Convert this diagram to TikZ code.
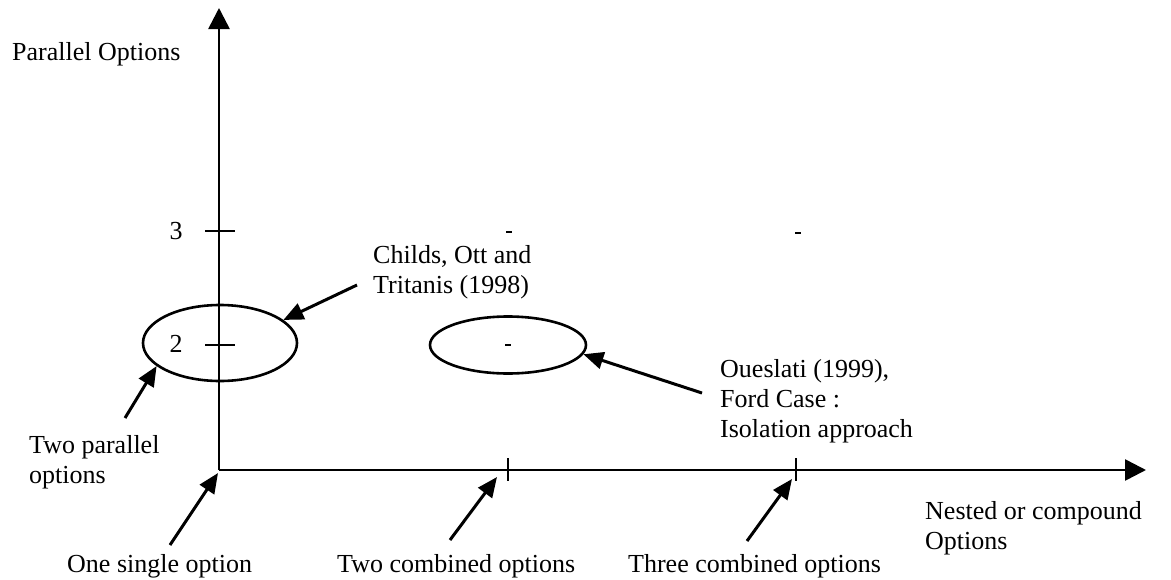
\documentclass[tikz,border=0pt]{standalone}
\usepackage{fontspec}
\setmainfont{Liberation Serif}
\usetikzlibrary{arrows.meta,shapes.geometric}
\begin{document}
\begin{tikzpicture}[x=1pt,y=-1pt,
  axisline/.style={line width=2.6pt,-{Triangle[length=21pt,width=21pt]}},
  pointer/.style={line width=3pt,-{Triangle[length=20pt,width=17pt]}},
  tickmark/.style={line width=2.4pt},
  speck/.style={line width=2pt},
  txt/.style={font=\fontsize{26}{30}\selectfont,inner sep=0pt,align=left,anchor=base west},
  zone/.style={draw,ellipse,line width=2.6pt,inner sep=0pt}]
\useasboundingbox (0,0) rectangle (1171,579);

% axes
\coordinate (O) at (219,470);
\coordinate (ytop) at (219,8);
\coordinate (xend) at (1146,470);
\draw[axisline] (O) -- (ytop);
\draw[axisline] (O) -- (xend);

% ticks on the vertical axis
\coordinate (t3a) at (205,231); \coordinate (t3b) at (235,231);
\coordinate (t2a) at (205,345); \coordinate (t2b) at (235,345);
\draw[tickmark] (t3a) -- (t3b);
\draw[tickmark] (t2a) -- (t2b);
\node[txt,anchor=base] (n3) at (176,239) {3};
\node[txt,anchor=base] (n2) at (176,352) {2};

% ticks on the horizontal axis
\coordinate (xa1) at (508,458); \coordinate (xb1) at (508,481);
\coordinate (xa2) at (796,458); \coordinate (xb2) at (796,481);
\draw[tickmark] (xa1) -- (xb1);
\draw[tickmark] (xa2) -- (xb2);

% faint grid specks
\coordinate (s1a) at (506,232); \coordinate (s1b) at (512,232);
\coordinate (s2a) at (795,233); \coordinate (s2b) at (801,233);
\coordinate (s3a) at (505,345); \coordinate (s3b) at (511,345);
\draw[speck] (s1a) -- (s1b);
\draw[speck] (s2a) -- (s2b);
\draw[speck] (s3a) -- (s3b);

% highlighted regions
\node[zone,minimum width=154pt,minimum height=76pt] (e1) at (220,343) {};
\node[zone,minimum width=156pt,minimum height=57pt] (e2) at (508,345) {};

% labels (multi-line nodes sit on the baseline of their last line)
\node[txt] (ylab) at (12,60) {Parallel Options};
\node[txt] (childs) at (373,293) {Childs, Ott and\\Tritanis (1998)};
\node[txt] (oues) at (720,437) {Oueslati (1999),\\Ford Case :\\Isolation approach};
\node[txt] (twopar) at (29,483) {Two parallel\\options};
\node[txt] (xlab) at (925,549) {Nested or compound\\Options};
\node[txt] (one) at (67,572) {One single option};
\node[txt] (two) at (337,572) {Two combined options};
\node[txt] (three) at (628,572) {Three combined options};

% pointers
\coordinate (pc) at (357,285);
\coordinate (pp) at (125,418);
\coordinate (po) at (702,393);
\coordinate (p1) at (170,545); \coordinate (q1) at (218,473);
\coordinate (p2) at (450,540); \coordinate (q2) at (497,477);
\coordinate (p3) at (747,541); \coordinate (q3) at (792,479);
\draw[pointer] (pc) -- (e1.20);
\draw[pointer] (pp) -- (e1.200);
\draw[pointer] (po) -- (e2.-7);
\draw[pointer] (p1) -- (q1);
\draw[pointer] (p2) -- (q2);
\draw[pointer] (p3) -- (q3);
\end{tikzpicture}
\end{document}
